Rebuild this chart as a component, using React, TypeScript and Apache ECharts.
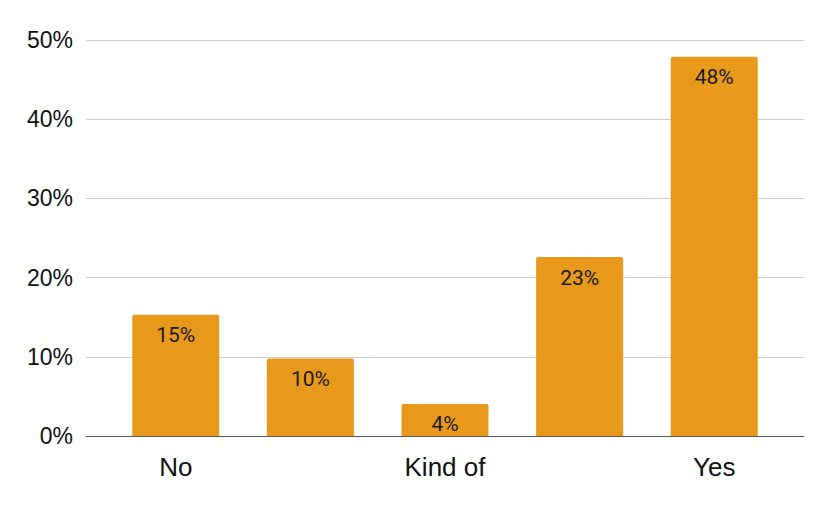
import React, { useEffect, useRef } from "react";
import * as echarts from "echarts";

const categories = ["No", "", "Kind of", "", "Yes"];
const values = [15.3, 9.8, 4.05, 22.6, 47.9];
const yTicks = [0, 10, 20, 30, 40, 50];

export default function App() {
  const ref = useRef<HTMLDivElement>(null);
  useEffect(() => {
    if (!ref.current) return;
    const chart = echarts.init(ref.current, null, { renderer: "svg" });
    const labelIdx = categories.map((c, i) => (c ? i : -1)).filter((i) => i >= 0);
    chart.setOption({
      animation: false,
      grid: { left: 86, right: 26, top: 40, bottom: 75 },
      xAxis: {
        type: "value",
        min: -2 / 3,
        max: 4 + 2 / 3,
        splitLine: { show: false },
        axisTick: { show: false },
        axisLine: { show: true, lineStyle: { color: "#555", width: 1 } },
        axisLabel: {
          customValues: labelIdx,
          formatter: (v: number) => categories[Math.round(v)] ?? "",
          fontFamily: "Liberation Sans, Arial, sans-serif",
          fontSize: 26,
          color: "#111",
          margin: 18,
        },
      },
      yAxis: {
        type: "value",
        min: yTicks[0],
        max: yTicks[yTicks.length - 1],
        interval: 10,
        axisLine: { show: false },
        axisTick: { show: false },
        splitLine: { lineStyle: { color: "#cccccc", width: 1 } },
        axisLabel: {
          formatter: "{value}%",
          fontFamily: "Liberation Sans, Arial, sans-serif",
          fontSize: 23,
          color: "#111",
          margin: 13,
        },
      },
      series: [
        {
          type: "bar",
          barWidth: 87,
          data: values.map((v, i) => [i, v]),
          itemStyle: { color: "#E8991C", borderRadius: [2, 2, 0, 0] },
          label: {
            show: true,
            position: "insideTop",
            distance: 10,
            formatter: (p: any) => Math.round(p.value[1]) + "%",
            fontFamily: "Roboto, sans-serif",
            fontSize: 21,
            color: "#1a1a1a",
          },
        },
      ],
    });
    return () => chart.dispose();
  }, []);
  return (
    <div
      ref={ref}
      style={{ position: "fixed", left: 0, top: 0, width: 830, height: 511, background: "#fff" }}
    />
  );
}
